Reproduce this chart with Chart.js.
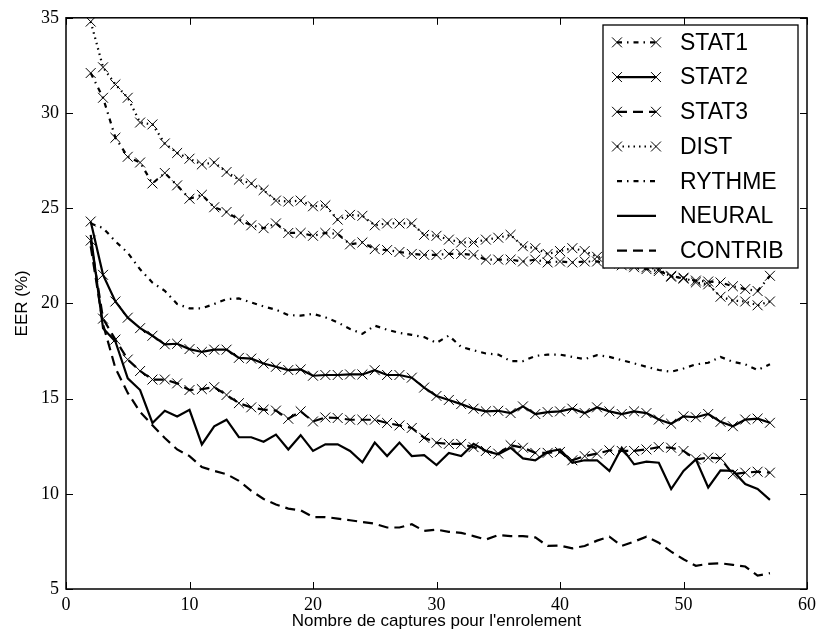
<!DOCTYPE html>
<html>
<head>
<meta charset="utf-8">
<script src="https://cdn.jsdelivr.net/npm/chart.js@4.4.1/dist/chart.umd.min.js"></script>
<style>
  html, body { margin: 0; padding: 0; background: #ffffff; }
  #eer-chart { display: block; }
</style>
</head>
<body>
<canvas id="eer-chart" width="821" height="641"></canvas>
<script>
// Nombre de captures (x) 
const captures = [2, 3, 4, 5, 6, 7, 8, 9, 10, 11, 12, 13, 14, 15, 16, 17, 18, 19, 20, 21, 22, 23, 24, 25, 26, 27, 28, 29,
  30, 31, 32, 33, 34, 35, 36, 37, 38, 39, 40, 41, 42, 43, 44, 45, 46, 47, 48, 49, 50, 51, 52, 53, 54, 55, 56, 57];

// EER (%) per method
const stat1 = [32.1, 30.8, 28.7, 27.7, 27.4, 26.3, 26.85, 26.2, 25.5, 25.7, 25.05, 24.8, 24.4, 24.1, 23.95, 24.2, 23.7, 23.7,
  23.55, 23.7, 23.65, 23.1, 23.2, 22.85, 22.8, 22.7, 22.6, 22.55, 22.55, 22.6, 22.6, 22.55, 22.3, 22.3, 22.3, 22.2, 22.3,
  22.15, 22.2, 22.15, 22.2, 22.2, 22.1, 22.0, 21.9, 21.8, 21.7, 21.45, 21.3, 21.2, 21.15, 21.1, 20.9, 20.75, 20.65, 21.45];
const stat2 = [24.3, 21.5, 20.1, 19.25, 18.7, 18.3, 17.85, 17.88, 17.6, 17.45, 17.57, 17.57, 17.14, 17.1, 16.84, 16.67, 16.5,
  16.53, 16.2, 16.24, 16.24, 16.27, 16.27, 16.49, 16.24, 16.24, 16.1, 15.58, 15.14, 14.93, 14.71, 14.47, 14.33, 14.36, 14.24,
  14.59, 14.19, 14.29, 14.33, 14.47, 14.24, 14.54, 14.33, 14.19, 14.33, 14.24, 13.9, 13.68, 14.07, 14.02, 14.19, 13.78,
  13.55, 13.9, 13.95, 13.73];
const stat3 = [23.3, 19.2, 18.1, 17.05, 16.45, 16.0, 16.0, 15.8, 15.45, 15.5, 15.6, 15.19, 14.76, 14.54, 14.42, 14.37, 13.94,
  14.33, 13.8, 14.01, 13.98, 13.89, 13.89, 13.89, 13.72, 13.59, 13.46, 12.94, 12.68, 12.62, 12.62, 12.45, 12.25, 12.11,
  12.55, 12.42, 12.15, 12.15, 12.2, 11.76, 11.98, 12.11, 12.28, 12.25, 12.25, 12.33, 12.45, 12.42, 12.25, 11.81, 11.9,
  11.86, 11.03, 11.11, 11.16, 11.11];
const dist = [34.8, 32.4, 31.5, 30.8, 29.5, 29.4, 28.4, 27.9, 27.6, 27.3, 27.4, 26.9, 26.5, 26.3, 25.95, 25.4, 25.35, 25.4,
  25.1, 25.15, 24.4, 24.65, 24.6, 24.1, 24.2, 24.2, 24.2, 23.6, 23.55, 23.35, 23.2, 23.2, 23.35, 23.45, 23.6, 23.0, 22.9,
  22.6, 22.75, 22.9, 22.75, 22.45, 22.3, 22.2, 22.0, 21.9, 21.8, 21.4, 21.35, 21.1, 21.0, 20.35, 20.15, 20.1, 19.9, 20.1];
const rythme = [24.2, 23.96, 23.26, 22.66, 21.79, 21.09, 20.66, 19.97, 19.74, 19.74, 19.97, 20.23, 20.26, 20.05, 19.84,
  19.67, 19.39, 19.36, 19.45, 19.27, 19.0, 18.66, 18.4, 18.83, 18.62, 18.45, 18.35, 18.23, 17.93, 18.31, 17.71, 17.54,
  17.37, 17.31, 16.97, 16.97, 17.24, 17.31, 17.31, 17.19, 17.07, 17.28, 17.19, 17.02, 16.85, 16.67, 16.5, 16.41, 16.58,
  16.8, 16.88, 17.19, 16.93, 16.8, 16.5, 16.8];
const neural = [23.6, 18.7, 18.0, 16.06, 15.45, 13.72, 14.36, 14.06, 14.41, 12.59, 13.54, 13.89, 12.97, 12.97, 12.73, 13.11,
  12.33, 13.08, 12.25, 12.6, 12.6, 12.25, 11.65, 12.69, 11.98, 12.69, 11.98, 12.03, 11.51, 12.15, 11.98, 12.62, 12.25,
  12.07, 12.42, 11.86, 11.76, 12.21, 12.33, 11.63, 11.76, 11.76, 11.2, 12.42, 11.55, 11.69, 11.63, 10.25, 11.2, 11.81,
  10.33, 11.23, 11.2, 10.51, 10.25, 9.68];
const contrib = [23.0, 18.9, 16.6, 15.3, 14.3, 13.6, 12.93, 12.33, 11.98, 11.41, 11.2, 11.03, 10.68, 10.16, 9.73, 9.44, 9.22,
  9.13, 8.78, 8.78, 8.7, 8.61, 8.52, 8.43, 8.23, 8.23, 8.4, 8.05, 8.12, 8.0, 7.95, 7.78, 7.6, 7.83, 7.78, 7.78, 7.71,
  7.26, 7.28, 7.14, 7.26, 7.54, 7.75, 7.26, 7.49, 7.75, 7.43, 6.96, 6.56, 6.22, 6.32, 6.35, 6.27, 6.18, 5.7, 5.83];

const seriesNames = ['STAT1', 'STAT2', 'STAT3', 'DIST', 'RYTHME', 'NEURAL', 'CONTRIB'];
const seriesValues = [stat1, stat2, stat3, dist, rythme, neural, contrib];

const xTicks = [0, 10, 20, 30, 40, 50, 60];
const yTicks = [5, 10, 15, 20, 25, 30, 35];

// line look for each series (matplotlib style: -., -x, --x, :x, -., -, --)
const DASHDOT = [5, 5, 1.5, 5];
const DASHED = [10, 6];
const DOTTED = [1.5, 4];
const styles = [
  { dash: DASHDOT, marker: true },
  { dash: [], marker: true },
  { dash: DASHED, marker: true },
  { dash: DOTTED, marker: true },
  { dash: DASHDOT, marker: false },
  { dash: [], marker: false },
  { dash: DASHED, marker: false },
];

const datasets = seriesNames.map((name, i) => ({
  label: name,
  data: captures.map((c, k) => ({ x: c, y: seriesValues[i][k] })),
  borderColor: '#000000',
  backgroundColor: '#000000',
  borderWidth: 2.2,
  borderDash: styles[i].dash,
  tension: 0,
  fill: false,
  pointStyle: 'crossRot',
  pointRadius: styles[i].marker ? 7 : 0,
  pointBorderWidth: 1,
  pointBorderColor: '#000000',
  pointHoverRadius: 0,
}));

//Black frame with inward ticks on all sides
const frameTicks = {
  id: 'frameTicks',
  afterDatasetsDraw(chart) {
    const { ctx, chartArea: a, scales: { x, y } } = chart;
    ctx.save();
    ctx.strokeStyle = '#000000';
    ctx.lineWidth = 1;
    ctx.setLineDash([]);
    ctx.beginPath();
    x.ticks.forEach(t => {
      const px = Math.round(x.getPixelForValue(t.value)) + 0.5;
      ctx.moveTo(px, a.bottom); ctx.lineTo(px, a.bottom - 7);
      ctx.moveTo(px, a.top); ctx.lineTo(px, a.top + 7);
    });
    y.ticks.forEach(t => {
      const py = Math.round(y.getPixelForValue(t.value)) + 0.5;
      ctx.moveTo(a.left, py); ctx.lineTo(a.left + 7, py);
      ctx.moveTo(a.right, py); ctx.lineTo(a.right - 7, py);
    });
    ctx.stroke();
    ctx.lineWidth = 1.5;
    ctx.strokeRect(a.left, a.top, a.right - a.left, a.bottom - a.top);
    ctx.restore();
  }
};

//Legend box in the upper right corner
const boxLegend = {
  id: 'boxLegend',
  afterDraw(chart) {
    const { ctx } = chart;
    const left = 603, top = 25, right = 798, bottom = 268;
    const rowH = (bottom - top) / 7;
    ctx.save();
    ctx.fillStyle = '#ffffff';
    ctx.fillRect(left, top, right - left, bottom - top);
    ctx.strokeStyle = '#000000';
    ctx.lineWidth = 1.3;
    ctx.setLineDash([]);
    ctx.strokeRect(left, top, right - left, bottom - top);
    chart.data.datasets.forEach((ds, i) => {
      const cy = top + rowH * (i + 0.5);
      ctx.save();
      ctx.lineWidth = ds.borderWidth;
      ctx.setLineDash(ds.borderDash);
      ctx.beginPath();
      ctx.moveTo(617, cy);
      ctx.lineTo(656, cy);
      ctx.stroke();
      ctx.restore();
      if (ds.pointRadius > 0) {
        ctx.lineWidth = 1;
        ctx.setLineDash([]);
        [617, 656].forEach(px => {
          Chart.helpers.drawPoint(ctx, { pointStyle: 'crossRot', radius: ds.pointRadius, borderWidth: 1, rotation: 0 }, px, cy);
        });
      }
      ctx.fillStyle = '#000000';
      ctx.font = '23px "Liberation Sans", Arial, sans-serif';
      ctx.textAlign = 'left';
      ctx.textBaseline = 'middle';
      ctx.fillText(ds.label, 680, cy + 1);
    });
    ctx.restore();
  }
};

const tickFont = { family: '"Liberation Serif", "DejaVu Serif", serif', size: 18 };
const titleFont = { family: '"Liberation Sans", Arial, sans-serif', size: 17 };

new Chart(document.getElementById('eer-chart'), {
  type: 'line',
  data: { datasets: datasets },
  options: {
    responsive: false,
    animation: false,
    devicePixelRatio: 1,
    layout: { padding: { top: 13, right: 12, left: 0, bottom: 0 } },
    plugins: {
      legend: { display: false },
      tooltip: { enabled: false },
    },
    scales: {
      x: {
        type: 'linear',
        min: 0,
        max: 60,
        afterBuildTicks: s => { s.ticks = xTicks.map(v => ({ value: v })); },
        afterFit: s => { s.height = 52; },
        grid: { display: false, drawTicks: false },
        border: { display: false },
        ticks: { color: '#000000', font: tickFont, padding: 5, maxRotation: 0 },
        title: {
          display: true,
          text: "Nombre de captures pour l'enrolement",
          color: '#000000',
          font: titleFont,
          padding: { top: 0, bottom: 9 },
        },
      },
      y: {
        type: 'linear',
        min: 5,
        max: 35,
        afterBuildTicks: s => { s.ticks = yTicks.map(v => ({ value: v })); },
        afterFit: s => { s.width = 66; },
        grid: { display: false, drawTicks: false },
        border: { display: false },
        ticks: { color: '#000000', font: tickFont, padding: 7 },
        title: {
          display: true,
          text: 'EER (%)',
          color: '#000000',
          font: titleFont,
          padding: { top: 12, bottom: 0 },
        },
      },
    },
  },
  plugins: [frameTicks, boxLegend],
});
</script>
</body>
</html>
